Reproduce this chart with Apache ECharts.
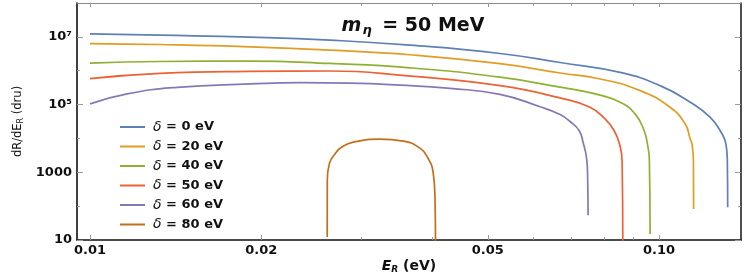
<!DOCTYPE html>
<html><head><meta charset="utf-8">
<script src="https://cdn.jsdelivr.net/npm/echarts@6/dist/echarts.min.js"></script>
<style>html,body{margin:0;padding:0;background:#fff}#c{width:747px;height:273px}</style>
</head><body><div id="c"></div>
<script>
// ---- data ----
const seriesNames = ['δ = 0 eV','δ = 20 eV','δ = 40 eV','δ = 50 eV','δ = 60 eV','δ = 80 eV'];
const seriesColors = ['#5E81B5','#E19C24','#8FB032','#EB6235','#8778B3','#C56E1A'];

const E_d0  = [0.01, 0.01327, 0.01911, 0.02641, 0.03651, 0.05254, 0.06699, 0.08542, 0.1004, 0.1134, 0.1229, 0.1290, 0.1310, 0.1318, 0.1320];
const R_d0  = [1.225e7, 1.12e7, 9.80e6, 8.00e6, 5.70e6, 3.23e6, 1.75e6, 8.91e5, 3.62e5, 1.17e5, 4.23e4, 1.37e4, 7.13e3, 2.25e3, 92];

const E_d20 = [0.01, 0.01327, 0.01911, 0.02641, 0.03651, 0.05254, 0.06699, 0.07876, 0.09261, 0.1045, 0.1111, 0.1134, 0.1142, 0.1149, 0.1150];
const R_d20 = [6.35e6, 5.94e6, 5.08e6, 4.06e6, 2.96e6, 1.61e6, 8.55e5, 5.70e5, 2.58e5, 8.33e4, 2.71e4, 9.8e3, 6.98e3, 2.25e3, 82];

const E_d40 = [0.01, 0.01327, 0.01911, 0.02641, 0.03651, 0.05254, 0.06699, 0.07264, 0.07876, 0.08542, 0.09074, 0.09410, 0.09537, 0.09615, 0.09643];
const R_d40 = [1.68e6, 1.87e6, 1.93e6, 1.64e6, 1.22e6, 6.44e5, 3.27e5, 2.58e5, 1.90e5, 1.17e5, 5.32e4, 1.72e4, 6.98e3, 2.25e3, 15];

const E_d50 = [0.01, 0.01327, 0.01911, 0.02641, 0.03578, 0.05254, 0.06699, 0.07560, 0.08037, 0.08335, 0.08516, 0.08610, 0.08635];
const R_d50 = [5.82e5, 8.34e5, 9.54e5, 9.80e5, 7.13e5, 3.62e5, 1.57e5, 8.33e4, 3.79e4, 1.72e4, 6.98e3, 2.25e3, 8];

const E_d60 = [0.01, 0.01162, 0.01422, 0.01911, 0.02339, 0.02863, 0.03506, 0.04293, 0.05254, 0.06178, 0.06699, 0.06975, 0.07235, 0.07353, 0.07458, 0.07488, 0.07503];
const R_d60 = [1.05e5, 2.07e5, 3.23e5, 4.06e5, 4.44e5, 4.29e5, 3.75e5, 3.00e5, 2.00e5, 8.60e4, 5.08e4, 3.16e4, 1.72e4, 7.62e3, 2.58e3, 817, 54];

const E_d80 = [0.02611, 0.02612, 0.02634, 0.02696, 0.02770, 0.02902, 0.03233, 0.03553, 0.03776, 0.03915, 0.04011, 0.04039, 0.04047];
const R_d80 = [12.2, 582, 1.80e3, 3.55e3, 5.55e3, 7.78e3, 9.53e3, 8.33e3, 5.55e3, 2.82e3, 916, 150, 8];

const E_all = [E_d0, E_d20, E_d40, E_d50, E_d60, E_d80];
const R_all = [R_d0, R_d20, R_d40, R_d50, R_d60, R_d80];

const xMajorTicks = [0.01, 0.02, 0.05, 0.1];
const xMinorTicks = [0.03, 0.04, 0.06, 0.07, 0.08, 0.09];
const yMajorTicks = [10, 1000, 1e5, 1e7];
const yMinorTicks = [100, 1e4, 1e6];
const yTickText = {10: '10', 1000: '1000', 100000: '10⁵', 10000000: '10⁷'};

const X_MIN = 0.009487, X_MAX = 0.1393, Y_MIN = 10, Y_MAX = 1e8;

// ---- chart ----
const FONT = 'DejaVu Sans';
const chart = echarts.init(document.getElementById('c'));

function xAxisDef(pos, ticks, len, label, line) {
  return {
    type: 'log', logBase: 10, min: X_MIN, max: X_MAX, position: pos,
    axisLine: line ? {show: true, onZero: false, lineStyle: line} : {show: false},
    axisTick: {show: true, inside: true, length: len, customValues: ticks, lineStyle: {color: '#9a9a9a', width: 1}},
    axisLabel: label ? {show: true, customValues: ticks, formatter: v => (+v).toFixed(2), margin: 4,
      fontFamily: FONT, fontWeight: 'bold', fontSize: 13, color: '#111'} : {show: false},
    splitLine: {show: false}, minorTick: {show: false}
  };
}
function yAxisDef(pos, ticks, len, label, line) {
  return {
    type: 'log', logBase: 10, min: Y_MIN, max: Y_MAX, position: pos,
    axisLine: line ? {show: true, onZero: false, lineStyle: line} : {show: false},
    axisTick: {show: true, inside: true, length: len, customValues: ticks, lineStyle: {color: '#9a9a9a', width: 1}},
    axisLabel: label ? {show: true, customValues: ticks, formatter: v => yTickText[Math.round(v)] || '', margin: 5,
      fontFamily: FONT, fontWeight: 'bold', fontSize: 13, color: '#111'} : {show: false},
    splitLine: {show: false}, minorTick: {show: false}
  };
}

const xMain = xAxisDef('bottom', xMajorTicks, 5, true, {color: '#111', width: 1.6});
xMain.name = '{e|E}{s|R}{t| (eV)}';
xMain.nameLocation = 'middle';
xMain.nameGap = 18;
xMain.nameMoveOverlap = false;
xMain.nameTextStyle = {rich: {
  e: {fontFamily: FONT, fontStyle: 'italic', fontWeight: 'bold', fontSize: 14, color: '#111'},
  s: {fontFamily: FONT, fontStyle: 'italic', fontWeight: 'bold', fontSize: 9, color: '#111', padding: [7, 0, 0, 0]},
  t: {fontFamily: FONT, fontWeight: 'bold', fontSize: 14, color: '#111'}
}};

const yMain = yAxisDef('left', yMajorTicks, 6, true, {color: '#111', width: 1.6});
yMain.name = '{t|dR/dE}{s|R}{t| (dru)}';
yMain.nameLocation = 'middle';
yMain.nameGap = 52;
yMain.nameMoveOverlap = false;
yMain.nameTextStyle = {rich: {
  t: {fontFamily: FONT, fontSize: 11.5, color: '#111'},
  s: {fontFamily: FONT, fontSize: 8, color: '#111', padding: [6, 0, 0, 0]}
}};

const option = {
  animation: false,
  backgroundColor: '#fff',
  color: seriesColors,
  grid: {left: 77, right: 6, top: 3, bottom: 33, containLabel: false, outerBoundsMode: 'none'},
  title: {
    text: '{m|m}{s|η}{t| = 50 MeV}', left: 408, top: 11, textAlign: 'center',
    textStyle: {rich: {
      m: {fontFamily: FONT, fontStyle: 'italic', fontWeight: 'bold', fontSize: 19, color: '#111'},
      s: {fontFamily: FONT, fontStyle: 'italic', fontSize: 13, color: '#111', padding: [8, 4, 0, 1]},
      t: {fontFamily: FONT, fontWeight: 'bold', fontSize: 19, color: '#111'}
    }}
  },
  legend: {
    orient: 'vertical', left: 115, top: 115, itemWidth: 25, itemHeight: 2, icon: 'rect', itemGap: 5.5,
    data: seriesNames,
    formatter: n => '{i|δ}{t|' + n.slice(1) + '}',
    textStyle: {rich: {
      i: {fontFamily: FONT, fontStyle: 'italic', fontSize: 14, color: '#111', padding: [0, 0, 0, 3], lineHeight: 16},
      t: {fontFamily: FONT, fontWeight: 'bold', fontSize: 13, color: '#111', lineHeight: 16}
    }}
  },
  xAxis: [
    xMain,
    xAxisDef('bottom', xMinorTicks, 3, false, null),
    xAxisDef('top', xMajorTicks, 4, false, {color: '#8a8a8a', width: 1.2}),
    xAxisDef('top', xMinorTicks, 3, false, null)
  ],
  yAxis: [
    yMain,
    yAxisDef('left', yMinorTicks, 3, false, null),
    yAxisDef('right', yMajorTicks, 6, false, {color: '#222', width: 1.6}),
    yAxisDef('right', yMinorTicks, 3, false, null)
  ],
  series: seriesNames.map((n, i) => ({
    name: n, type: 'line', xAxisIndex: 0, yAxisIndex: 0,
    data: E_all[i].map((e, j) => [e, R_all[i][j]]),
    symbol: 'none', showSymbol: false, smooth: 0.5, clip: true,
    lineStyle: {width: 1.7, color: seriesColors[i]}, itemStyle: {color: seriesColors[i]}
  }))
};
chart.setOption(option);
</script></body></html>
